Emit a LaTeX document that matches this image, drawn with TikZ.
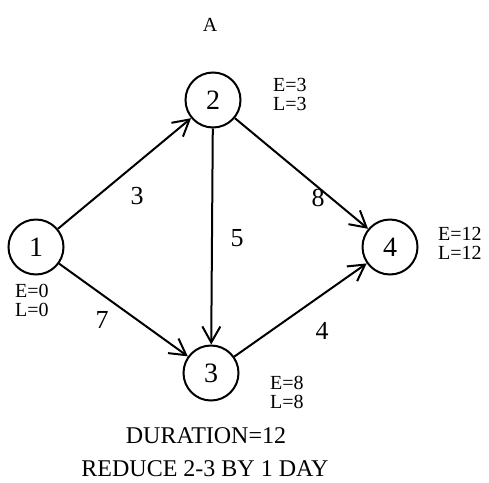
\documentclass[tikz,border=0pt]{standalone}
\usepackage{fontspec}
\setmainfont{Liberation Serif}
\usetikzlibrary{arrows.meta}

\begin{document}
\begin{tikzpicture}[x=1pt, y=-1pt,
        ev/.style={circle, draw, line width=2pt, minimum size=55pt, inner sep=0pt,
                font=\fontsize{28}{28}\selectfont},
        act/.style={draw, line width=2pt, -{Straight Barb[length=16pt,width=18pt]}},
        wt/.style={font=\fontsize{26}{26}\selectfont},
        tm/.style={align=left, anchor=west, inner sep=0pt, font=\fontsize{20}{19}\selectfont},
        note/.style={inner sep=0pt, font=\fontsize{24}{24}\selectfont}
        ]
        \useasboundingbox (0,0) rectangle (489,482);

        \node[font=\fontsize{20}{20}\selectfont, inner sep=0pt] (title) at (210,25) {A};

        \node[ev] (n1) at (36,247)  {1};
        \node[ev] (n2) at (213,100) {2};
        \node[ev] (n3) at (211,373) {3};
        \node[ev] (n4) at (390,247) {4};

        % event times
        \node[tm] (t1) at (15,300)  {E=0\\L=0};
        \node[tm] (t2) at (273,94)  {E=3\\L=3};
        \node[tm] (t3) at (270,392) {E=8\\L=8};
        \node[tm] (t4) at (438,243) {E=12\\L=12};

        % activities
        \draw[act] (n1) -- (n2);
        \draw[act] (n1) -- (n3);
        \draw[act] (n2) -- (n3);
        \draw[act] (n2) -- (n4);
        \draw[act] (n3) -- (n4);

        \node[wt] (w12) at (137,196) {3};
        \node[wt] (w13) at (102,320) {7};
        \node[wt] (w23) at (237,238) {5};
        \node[wt] (w24) at (318,198) {8};
        \node[wt] (w34) at (322,331) {4};

        \node[note] (dur) at (206,436) {DURATION=12};
        \node[note] (red) at (205,469) {REDUCE 2-3 BY 1 DAY};
    \end{tikzpicture}
\end{document}
